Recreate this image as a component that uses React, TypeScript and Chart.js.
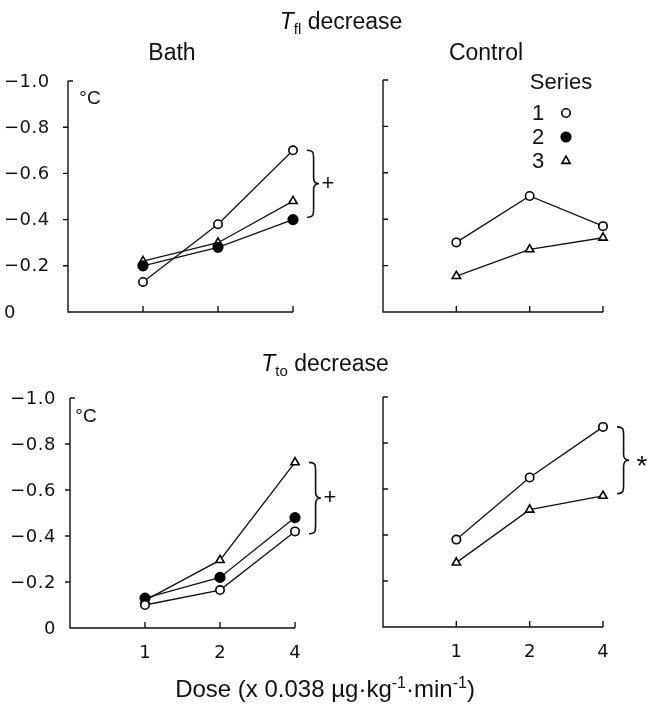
import React, { useEffect, useRef } from "react";
import { Chart, registerables } from "chart.js";
Chart.register(...registerables);

const W = 649;
const H = 707;

const doseLabels = ["1", "2", "4"];
const doseIndex = [1, 2, 3];
const yTickValues = [0, -0.2, -0.4, -0.6, -0.8, -1.0];
const yTickLabels = ["0", "\u22120.2", "\u22120.4", "\u22120.6", "\u22120.8", "\u22121.0"];

const tflBathS1 = [-0.13, -0.38, -0.70];
const tflBathS2 = [-0.20, -0.28, -0.40];
const tflBathS3 = [-0.22, -0.30, -0.48];
const tflCtrlS1 = [-0.30, -0.50, -0.37];
const tflCtrlS3 = [-0.155, -0.27, -0.32];
const ttoBathS1 = [-0.10, -0.165, -0.42];
const ttoBathS2 = [-0.13, -0.22, -0.48];
const ttoBathS3 = [-0.12, -0.295, -0.72];
const ttoCtrlS1 = [-0.38, -0.65, -0.87];
const ttoCtrlS3 = [-0.28, -0.51, -0.57];

const seriesNames = ["1", "2", "3"];

const FONT = "'Liberation Sans', Arial, sans-serif";
const TICKFONT = "'DejaVu Sans', sans-serif";

type Brace = { from: number; to: number; symbol: string };
type Panel = {
  area: { left: number; top: number; right: number; bottom: number };
  series: { values: number[]; kind: number }[];
  yLabels: "left" | "right" | "none";
  yTickDir: number;
  xLabels: boolean;
  brace?: Brace;
  legend?: boolean;
};

const panels: Panel[] = [
  {
    area: { left: 68, top: 81, right: 293, bottom: 312 },
    series: [
      { values: tflBathS1, kind: 0 },
      { values: tflBathS2, kind: 1 },
      { values: tflBathS3, kind: 2 },
    ],
    yLabels: "left",
    yTickDir: -1,
    xLabels: false,
    brace: { from: -0.70, to: -0.41, symbol: "+" },
  },
  {
    area: { left: 383, top: 80, right: 603, bottom: 312 },
    series: [
      { values: tflCtrlS1, kind: 0 },
      { values: tflCtrlS3, kind: 2 },
    ],
    yLabels: "none",
    yTickDir: 1,
    xLabels: false,
    legend: true,
  },
  {
    area: { left: 70, top: 398, right: 295, bottom: 628 },
    series: [
      { values: ttoBathS1, kind: 0 },
      { values: ttoBathS2, kind: 1 },
      { values: ttoBathS3, kind: 2 },
    ],
    yLabels: "right",
    yTickDir: -1,
    xLabels: true,
    brace: { from: -0.72, to: -0.41, symbol: "+" },
  },
  {
    area: { left: 383, top: 397, right: 603, bottom: 627 },
    series: [
      { values: ttoCtrlS1, kind: 0 },
      { values: ttoCtrlS3, kind: 2 },
    ],
    yLabels: "none",
    yTickDir: 1,
    xLabels: true,
    brace: { from: -0.87, to: -0.58, symbol: "*" },
  },
];

const markerStyle = [
  { pointStyle: "circle", radius: 4.2, fill: "#ffffff" },
  { pointStyle: "circle", radius: 4.8, fill: "#000000" },
  { pointStyle: "triangle", radius: 4.8, fill: "#ffffff" },
];

function drawBrace(ctx: CanvasRenderingContext2D, x: number, yTop: number, yBot: number, w: number) {
  const mid = (yTop + yBot) / 2;
  const xm = x + w * 0.55;
  ctx.beginPath();
  ctx.moveTo(x, yTop);
  ctx.bezierCurveTo(xm, yTop, xm, yTop + 3, xm, yTop + 8);
  ctx.lineTo(xm, mid - 6);
  ctx.bezierCurveTo(xm, mid - 2, x + w * 0.75, mid, x + w, mid);
  ctx.bezierCurveTo(x + w * 0.75, mid, xm, mid + 2, xm, mid + 6);
  ctx.lineTo(xm, yBot - 8);
  ctx.bezierCurveTo(xm, yBot - 3, xm, yBot, x, yBot);
  ctx.stroke();
}

function drawMarker(ctx: CanvasRenderingContext2D, kind: number, cx: number, cy: number) {
  const m = markerStyle[kind];
  ctx.beginPath();
  if (m.pointStyle === "circle") {
    ctx.arc(cx, cy, m.radius, 0, Math.PI * 2);
  } else {
    let rad = 0;
    const r = m.radius;
    ctx.moveTo(cx + Math.sin(rad) * r, cy - Math.cos(rad) * r);
    rad += (2 * Math.PI) / 3;
    ctx.lineTo(cx + Math.sin(rad) * r, cy - Math.cos(rad) * r);
    rad += (2 * Math.PI) / 3;
    ctx.lineTo(cx + Math.sin(rad) * r, cy - Math.cos(rad) * r);
    ctx.closePath();
  }
  ctx.fillStyle = m.fill;
  ctx.fill();
  ctx.lineWidth = 1.6;
  ctx.strokeStyle = "#000";
  ctx.stroke();
}

function makePlugin(panel: Panel) {
  return {
    id: "panelAxes",
    beforeDatasetsDraw(chart: any) {
      const { ctx, scales } = chart;
      const x = scales.x;
      const y = scales.y;
      const x0 = x.getPixelForValue(0);
      const x3 = x.getPixelForValue(3);
      const y0 = y.getPixelForValue(0);
      const y1 = y.getPixelForValue(-1);
      ctx.save();
      ctx.strokeStyle = "#111";
      ctx.lineWidth = 1.4;
      ctx.beginPath();
      ctx.moveTo(x0, y1);
      ctx.lineTo(x0, y0);
      ctx.lineTo(x3, y0);
      ctx.stroke();
      ctx.beginPath();
      yTickValues.forEach((v) => {
        if (v === 0) return;
        const py = y.getPixelForValue(v);
        const dir = v === -1 ? 1 : panel.yTickDir;
        ctx.moveTo(x0, py);
        ctx.lineTo(x0 + dir * 5, py);
      });
      doseIndex.forEach((i) => {
        const px = x.getPixelForValue(i);
        ctx.moveTo(px, y0);
        ctx.lineTo(px, y0 - 6);
      });
      ctx.stroke();

      ctx.fillStyle = "#111";
      ctx.font = `18px ${TICKFONT}`;
      ctx.textBaseline = "middle";
      if (panel.yLabels !== "none") {
        (ctx as any).letterSpacing = "0.5px";
        ctx.textAlign = panel.yLabels === "left" ? "left" : "right";
        const lx = panel.yLabels === "left" ? 4 : 56;
        yTickValues.forEach((v, i) => {
          ctx.fillText(yTickLabels[i], lx, y.getPixelForValue(v) + 1);
        });
        (ctx as any).letterSpacing = "0px";
      }
      if (panel.xLabels) {
        ctx.textAlign = "center";
        doseIndex.forEach((i, k) => {
          ctx.fillText(doseLabels[k], x.getPixelForValue(i), y0 + 25);
        });
      }
      ctx.restore();
    },
    afterDraw(chart: any) {
      const { ctx, scales } = chart;
      const x = scales.x;
      const y = scales.y;
      ctx.save();
      if (panel.brace) {
        const bx = x.getPixelForValue(3) + 14;
        const t = y.getPixelForValue(panel.brace.from);
        const b = y.getPixelForValue(panel.brace.to);
        ctx.strokeStyle = "#111";
        ctx.lineWidth = 1.6;
        drawBrace(ctx, bx, t, b, 12);
        ctx.fillStyle = "#111";
        ctx.textAlign = "center";
        ctx.textBaseline = "middle";
        if (panel.brace.symbol === "*") {
          ctx.font = `28px ${FONT}`;
          ctx.fillText("*", bx + 25, (t + b) / 2 + 7);
        } else {
          ctx.font = `22px ${FONT}`;
          ctx.fillText("+", bx + 21, (t + b) / 2);
        }
      }
      if (panel.legend) {
        ctx.fillStyle = "#111";
        ctx.font = `22px ${FONT}`;
        ctx.textAlign = "center";
        ctx.textBaseline = "middle";
        ctx.fillText("Series", 561, 83);
        const rows = [113, 137, 161];
        seriesNames.forEach((n, i) => {
          ctx.fillStyle = "#111";
          ctx.fillText(n, 538, rows[i] + 1);
          drawMarker(ctx, i, 566, rows[i]);
        });
      }
      ctx.restore();
    },
  };
}

function PanelChart({ panel }: { panel: Panel }) {
  const ref = useRef<HTMLCanvasElement | null>(null);
  useEffect(() => {
    if (!ref.current) return;
    const datasets = panel.series.map((s) => {
      const m = markerStyle[s.kind];
      return {
        label: seriesNames[s.kind],
        data: s.values.map((v, i) => ({ x: doseIndex[i], y: v })),
        showLine: true,
        borderColor: "#111",
        borderWidth: 1.3,
        pointStyle: m.pointStyle,
        pointRadius: m.radius,
        pointBackgroundColor: m.fill,
        pointBorderColor: "#000",
        pointBorderWidth: 1.6,
        clip: false,
      };
    });
    const chart = new Chart(ref.current, {
      type: "scatter",
      data: { datasets: datasets as any },
      options: {
        responsive: false,
        animation: false,
        events: [],
        layout: {
          padding: {
            left: panel.area.left,
            top: panel.area.top,
            right: W - panel.area.right,
            bottom: H - panel.area.bottom,
          },
        },
        scales: {
          x: { type: "linear", min: 0, max: 3, display: false },
          y: { type: "linear", min: -1, max: 0, reverse: true, display: false },
        },
        plugins: { legend: { display: false }, tooltip: { enabled: false } },
      } as any,
      plugins: [makePlugin(panel)],
    });
    return () => chart.destroy();
  }, [panel]);
  return (
    <canvas
      ref={ref}
      width={W}
      height={H}
      style={{ position: "absolute", left: 0, top: 0, width: W, height: H }}
    />
  );
}

const label = (left: number, top: number, size: number, content: React.ReactNode) => (
  <div
    style={{
      position: "absolute",
      left,
      top,
      transform: "translate(-50%, -50%)",
      fontSize: size,
      fontFamily: FONT,
      color: "#111",
      whiteSpace: "nowrap",
      lineHeight: 1,
    }}
  >
    {content}
  </div>
);

export default function App() {
  return (
    <div style={{ position: "fixed", left: 0, top: 0, width: W, height: H, background: "#fff", overflow: "hidden" }}>
      {panels.map((p, i) => (
        <PanelChart key={i} panel={p} />
      ))}
      {label(341, 23, 23, (
        <span>
          <i>T</i>
          <sub style={{ fontSize: 15 }}>fl</sub> decrease
        </span>
      ))}
      {label(325, 365, 23, (
        <span>
          <i>T</i>
          <sub style={{ fontSize: 15 }}>to</sub> decrease
        </span>
      ))}
      {label(172, 52, 23, "Bath")}
      {label(486, 52, 23, "Control")}
      {label(90, 97, 19, "°C")}
      {label(86, 415, 19, "°C")}
      {label(325, 688, 24, (
        <span>
          Dose (x 0.038 µg·kg<sup style={{ fontSize: 16 }}>-1</sup>·min<sup style={{ fontSize: 16 }}>-1</sup>)
        </span>
      ))}
    </div>
  );
}
